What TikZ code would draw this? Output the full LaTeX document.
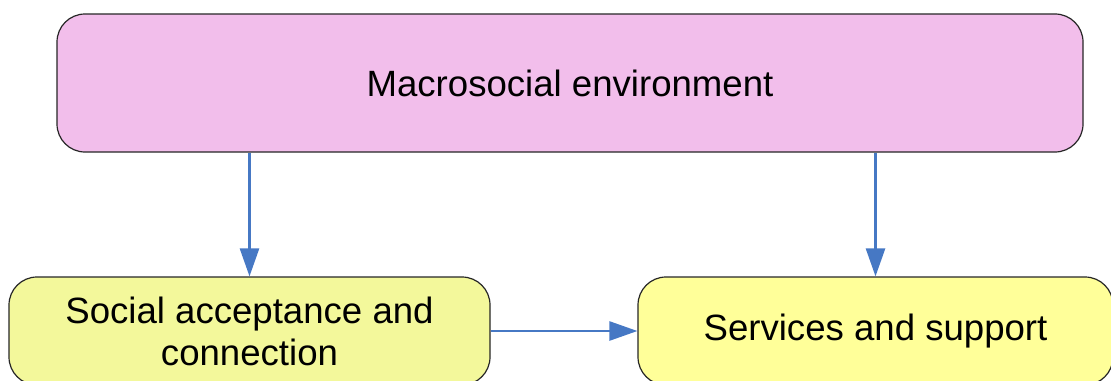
\documentclass[tikz,border=0pt]{standalone}
\usepackage{fontspec}
\setmainfont{Liberation Sans}
\usepackage{xcolor}
\usetikzlibrary{arrows.meta}
\definecolor{macropink}{RGB}{242,190,235}
\definecolor{accyellow}{RGB}{243,248,155}
\definecolor{servyellow}{RGB}{255,255,153}
\definecolor{flowblue}{RGB}{70,120,196}
\tikzset{
  box/.style={draw=black!85,line width=0.6pt,rounded corners=14pt,align=center,
    font=\fontsize{18.3}{21}\selectfont},
  flow/.style={draw=flowblue,line width=1.3pt,-{Triangle[length=14pt,width=9.5pt]}}
}

\begin{document}
\begin{tikzpicture}[x=0.5pt,y=-0.5pt]
    \clip (0,0) rectangle (1111,380);
    % Context and the two levels below it
    \node[box,fill=macropink,minimum width=513pt,minimum height=69pt] (macro) at (570,83) {Macrosocial environment};
    \node[box,fill=accyellow,minimum width=240.5pt,minimum height=54pt] (accept) at (249.5,331) {Social acceptance and\\connection};
    \node[box,fill=servyellow,minimum width=237.5pt,minimum height=54pt] (services) at (875.5,331) {Services and support};

    % Influences
    \draw[flow] (macro.south -| accept.north) -- (accept.north);
    \draw[flow] (macro.south -| services.north) -- (services.north);
    \draw[flow] (accept.east) -- (services.west);
\end{tikzpicture}
\end{document}
